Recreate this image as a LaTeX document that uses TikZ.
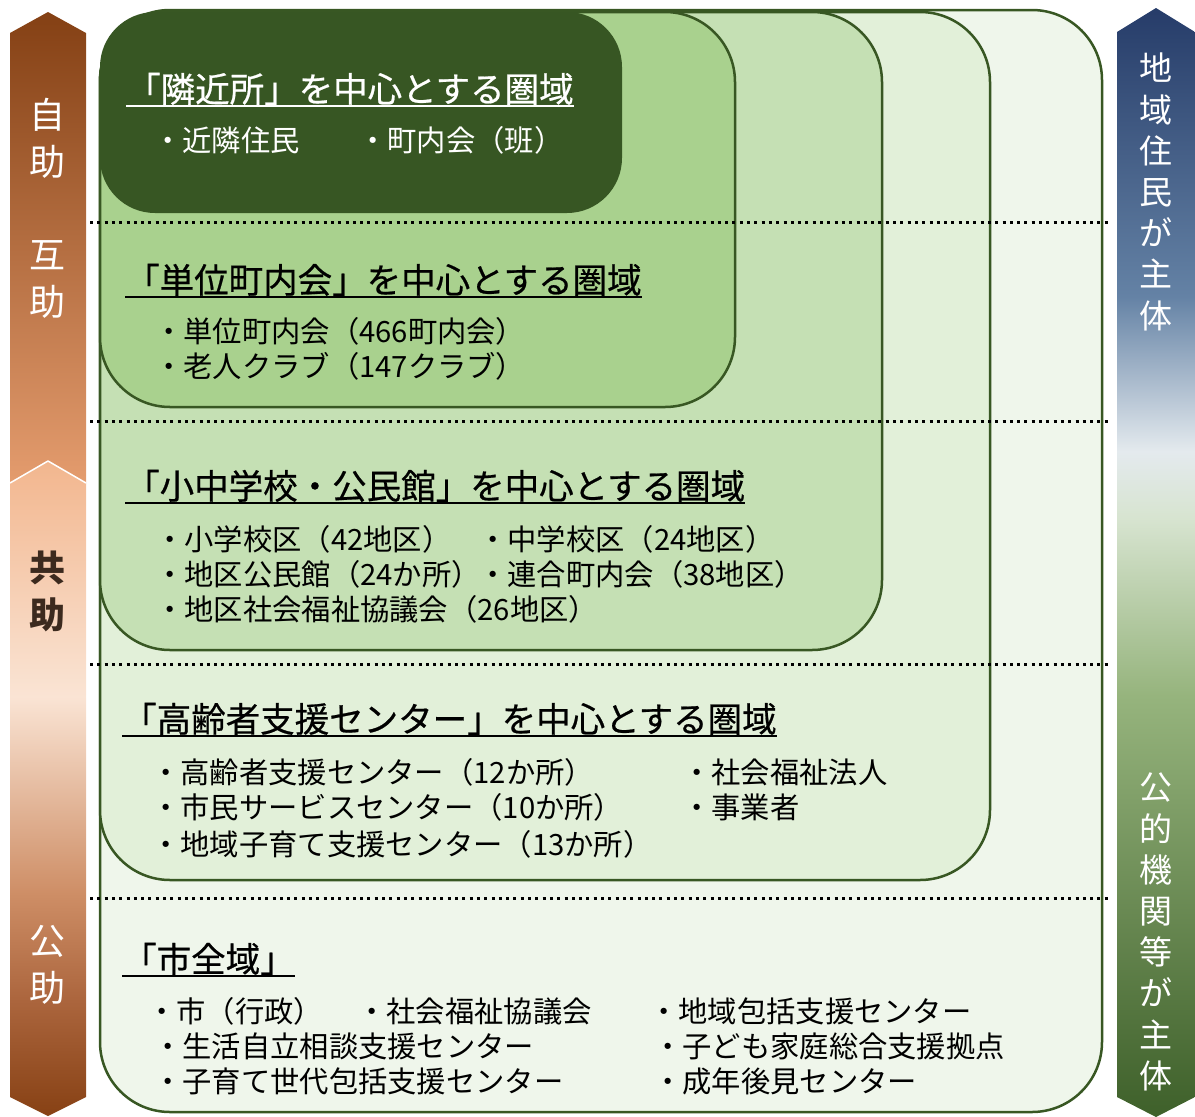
\documentclass[tikz,border=0pt]{standalone}
\usepackage{fontspec}
\setmainfont{Noto Sans CJK JP}
\newfontfamily\headfont[FakeBold=0.6]{Noto Sans CJK JP}
\usetikzlibrary{shadings}

\definecolor{boxline}{HTML}{385723}
\definecolor{zoneA}{HTML}{375623}
\definecolor{zoneB}{HTML}{A9D18E}
\definecolor{zoneC}{HTML}{C5E0B4}
\definecolor{zoneD}{HTML}{E2F0D9}
\definecolor{zoneE}{HTML}{EFF6EB}
\definecolor{upT}{RGB}{132,64,20}
\definecolor{upB}{RGB}{228,156,110}
\definecolor{lowA}{RGB}{135,65,20}
\definecolor{lowB}{RGB}{172,102,62}
\definecolor{lowC}{RGB}{206,142,102}
\definecolor{lowD}{RGB}{250,228,212}
\definecolor{lowE}{RGB}{242,182,142}
\definecolor{rtA}{RGB}{62,96,42}
\definecolor{rtB}{RGB}{150,180,125}
\definecolor{rtC}{RGB}{215,228,208}
\definecolor{rtD}{RGB}{228,234,238}
\definecolor{rtE}{RGB}{100,130,165}
\definecolor{rtF}{RGB}{38,60,105}
\definecolor{darktext}{RGB}{60,42,30}

\pgfdeclareverticalshading{selfhelp}{100bp}{color(0bp)=(upB); color(25bp)=(upB); color(75bp)=(upT); color(100bp)=(upT)}
\pgfdeclareverticalshading{publichelp}{100bp}{color(0bp)=(lowA); color(25bp)=(lowA); color(34bp)=(lowB); color(42bp)=(lowC); color(57bp)=(lowD); color(75bp)=(lowE); color(100bp)=(lowE)}
\pgfdeclareverticalshading{actors}{100bp}{color(0bp)=(rtA); color(25bp)=(rtA); color(44bp)=(rtB); color(52bp)=(rtC); color(55bp)=(rtD); color(62bp)=(rtE); color(75bp)=(rtF); color(100bp)=(rtF)}

\tikzstyle{zone}=[draw=boxline, line width=2.5pt, rounded corners=70pt]
\tikzstyle{sep}=[line width=3pt, dash pattern=on 3pt off 4.3pt]
\tikzstyle{head}=[anchor=base west, inner sep=0pt, font=\headfont\fontsize{34.5}{40}\selectfont]
\tikzstyle{item}=[anchor=base west, inner sep=0pt, font=\fontsize{29.3}{34}\selectfont]
\tikzstyle{uline}=[line width=2pt]
\tikzstyle{lefttext}=[align=center, inner sep=0pt, white, font=\fontsize{36}{47}\selectfont]
\tikzstyle{righttext}=[align=center, inner sep=0pt, white, font=\fontsize{33}{41.2}\selectfont]

\begin{document}
\begin{tikzpicture}[x=1pt, y=-1pt, line join=round]
\useasboundingbox (0,0) rectangle (1195,1117);
% Left arrow
    \shade[shading=selfhelp] (10,33) -- (48,12) -- (86,33) -- (86,483) -- (48,461) -- (10,483) -- cycle;
    \shade[shading=publichelp] (10,483) -- (48,461) -- (86,483) -- (86,1097) -- (48,1116) -- (10,1097) -- cycle;
    \draw[white, line width=1.5pt] (10,483) -- (48,461) -- (86,483);
% Right arrow
    \shade[shading=actors] (1117,32) -- (1156,8) -- (1195,32) -- (1195,1097) -- (1156,1117) -- (1117,1097) -- cycle;
% Zones
    \draw[zone, fill=zoneE] (100,10) rectangle (1102,1112);
    \draw[zone, fill=zoneD] (100,12) rectangle (990,880);
    \draw[zone, fill=zoneC] (100,12) rectangle (882,650);
    \draw[zone, fill=zoneB] (100,12) rectangle (735,407);
    \fill[zoneA, rounded corners=55pt] (100,12) rectangle (622,213);
% Dotted borders
    \draw[sep] (90,222) -- (1108,222);
    \draw[sep] (90,421) -- (1108,421);
    \draw[sep] (90,664) -- (1108,664);
    \draw[sep] (90,898) -- (1108,898);
% Side labels
    \node[lefttext] (jijo) at (48,138) {自\\助};
    \node[lefttext] (gojo) at (48,280) {互\\助};
    \node[lefttext, darktext, font=\fontsize{36}{47}\selectfont\bfseries] (kyojo) at (48,591) {共\\助};
    \node[lefttext] (kojo) at (48,965) {公\\助};
    \node[righttext] (residents) at (1156,192) {地\\域\\住\\民\\が\\主\\体};
    \node[righttext] (agencies) at (1156,932) {公\\的\\機\\関\\等\\が\\主\\体};
% Neighbourhood
    \node[head, white] (hA) at (126,102) {「隣近所」を中心とする圏域};
    \draw[uline, white] ([yshift=-4pt]hA.base west) -- ([yshift=-4pt]hA.base east);
    \node[item, white] (iA1) at (153,151) {・近隣住民};
    \node[item, white] (iA2) at (358,151) {・町内会（班）};
% Unit town councils
    \node[head] (hB) at (125,293) {「単位町内会」を中心とする圏域};
    \draw[uline] ([yshift=-4pt]hB.base west) -- ([yshift=-4pt]hB.base east);
    \node[item] (iB1) at (154,342) {・単位町内会（466町内会）};
    \node[item] (iB2) at (154,377) {・老人クラブ（147クラブ）};
% Schools and community halls
    \node[head] (hC) at (125,499) {「小中学校・公民館」を中心とする圏域};
    \draw[uline] ([yshift=-4pt]hC.base west) -- ([yshift=-4pt]hC.base east);
    \node[item] (iC1) at (155,550) {・小学校区（42地区）};
    \node[item] (iC2) at (155,585) {・地区公民館（24か所）};
    \node[item] (iC3) at (155,620) {・地区社会福祉協議会（26地区）};
    \node[item] (iC4) at (478,550) {・中学校区（24地区）};
    \node[item] (iC5) at (478,585) {・連合町内会（38地区）};
% Support centres
    \node[head] (hD) at (122,732) {「高齢者支援センター」を中心とする圏域};
    \draw[uline] ([yshift=-4pt]hD.base west) -- ([yshift=-4pt]hD.base east);
    \node[item] (iD1) at (151,783) {・高齢者支援センター（12か所）};
    \node[item] (iD2) at (151,818) {・市民サービスセンター（10か所）};
    \node[item] (iD3) at (151,855) {・地域子育て支援センター（13か所）};
    \node[item] (iD4) at (682,783) {・社会福祉法人};
    \node[item] (iD5) at (682,818) {・事業者};
% Whole city
    \node[head] (hE) at (122,972) {「市全域」};
    \draw[uline] ([yshift=-4pt]hE.base west) -- ([yshift=-4pt]hE.base east);
    \node[item] (iE1) at (147,1022) {・市（行政）};
    \node[item] (iE2) at (357,1022) {・社会福祉協議会};
    \node[item] (iE3) at (649,1022) {・地域包括支援センター};
    \node[item] (iE4) at (153,1057) {・生活自立相談支援センター};
    \node[item] (iE5) at (653,1057) {・子ども家庭総合支援拠点};
    \node[item] (iE6) at (153,1092) {・子育て世代包括支援センター};
    \node[item] (iE7) at (653,1092) {・成年後見センター};
\end{tikzpicture}
\end{document}
